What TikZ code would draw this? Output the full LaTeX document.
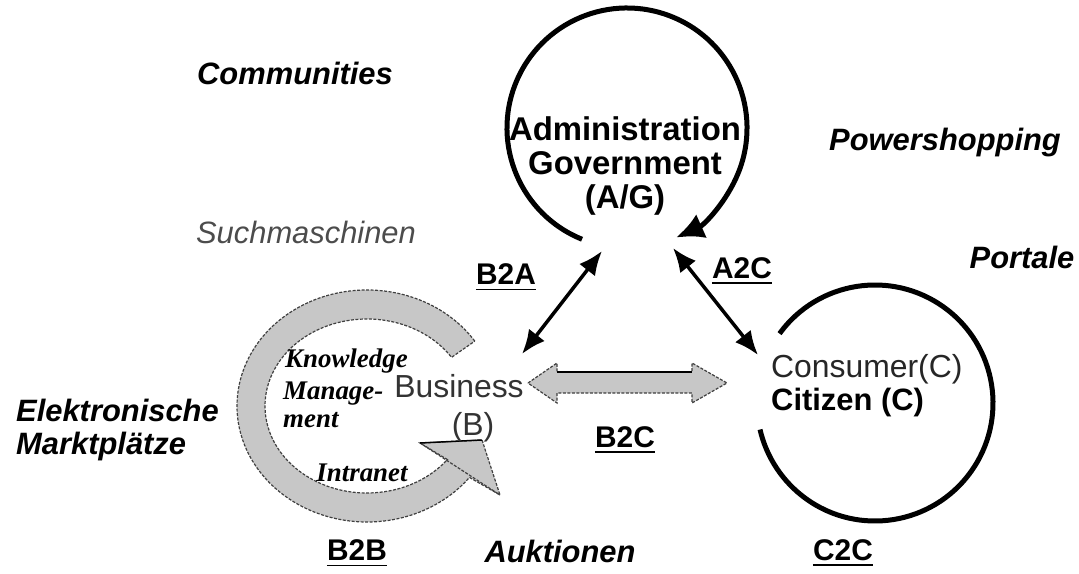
\documentclass[tikz,border=0pt]{standalone}
\usepackage{fontspec}
\setmainfont{Liberation Sans}
\newfontfamily\timesf{Liberation Serif}
\usetikzlibrary{arrows.meta,calc}
\begin{document}
\begin{tikzpicture}[x=1bp,y=-1bp,
  lbl/.style={font=\fontsize{31}{34}\selectfont\bfseries\itshape, inner sep=0},
  code/.style={font=\fontsize{30}{34}\selectfont\bfseries, inner sep=0},
  plain/.style={font=\fontsize{32}{34}\selectfont, inner sep=0, text=black!80},
  blackarc/.style={line width=5bp},
  dbl/.style={line width=3.5bp, {Latex[length=24bp,width=20bp]}-{Latex[length=24bp,width=20bp]}},
  greyshape/.style={fill=black!22, draw=black!75, line width=1.2bp, dash pattern=on 3bp off 1.5bp},
  kmtext/.style={font=\timesf\fontsize{27}{28}\selectfont\bfseries\itshape, inner sep=0, anchor=west},
  uline/.style={line width=1.6bp}
]
\useasboundingbox (0,0) rectangle (1079,574);

% top circle (Administration / Government)
\coordinate (cA) at (627,128);
\draw[blackarc, -{Latex[length=28bp,width=26bp]}] ($(cA)+(112:120)$) arc[start angle=112, end angle=426, radius=120];

% consumer circle
\coordinate (cC) at (875,403);
\draw[blackarc] ($(cC)+(216:118)$) arc[start angle=216, end angle=527, radius=118];

% grey ring (Business)
\coordinate (cB) at (367,406);
\path[greyshape] ($(cB)+(-34:130 and 116)$) arc[start angle=-34, end angle=-322, x radius=130, y radius=116]
  -- (500,495) -- (482,440) -- (420,443) -- ($(cB)+(38:102 and 87)$)
  arc[start angle=38, end angle=326, x radius=102, y radius=87] -- cycle;
\draw[draw=black!75, line width=1.2bp, dash pattern=on 3bp off 1.5bp] (420,443) -- (500,495);
\draw[line width=1.5bp] (420,443) -- (482,440);

% B2C grey double arrow
\path[greyshape] (528,383) -- (557,363) -- (557,372) -- (692,372) -- (692,363) -- (727,383)
  -- (692,403) -- (692,393) -- (557,393) -- (557,403) -- cycle;
\draw[line width=1.5bp] (557,372) -- (692,372);

% black double arrows
\coordinate (ba1) at (522,354); \coordinate (ba2) at (602,251);
\draw[dbl] (ba1) -- (ba2);
\coordinate (ac1) at (673,248); \coordinate (ac2) at (758,355);
\draw[dbl] (ac1) -- (ac2);

% texts in circles
\node[font=\fontsize{33}{34}\selectfont\bfseries, align=center, inner sep=0] (admin) at (625,166)
  {Administration\\Government\\(A/G)};
\node[plain] (bus) at (459,386) {Business};
\node[plain] (busb) at (473,427) {(B)};
\node[plain, anchor=west, text=black!85] (cons) at (771,369) {Consumer(C)};
\node[code, font=\fontsize{31}{34}\selectfont\bfseries, anchor=west] (citi) at (771,403) {Citizen (C)};

\node[kmtext] (km1) at (285,361) {Knowledge};
\node[kmtext] (km2) at (283,394) {Manage-};
\node[kmtext] (km3) at (283,420) {ment};
\node[kmtext, anchor=center] (intra) at (362,473) {Intranet};

% surrounding labels
\node[lbl] (comm) at (295,73) {Communities};
\node[lbl] (power) at (945,143) {Powershopping};
\node[lbl] (port) at (1022,257) {Portale};
\node[font=\fontsize{31}{34}\selectfont\itshape, inner sep=0, text=black!70] (such) at (306,232) {Suchmaschinen};
\node[lbl, align=left, anchor=west] (markt) at (16,430) {Elektronische\\Marktpl\"atze};
\node[lbl] (auk) at (560,551) {Auktionen};

% relation labels
\node[code] (b2a) at (506,274) {B2A};
\node[code] (a2c) at (742,268) {A2C};
\node[code] (b2c) at (625,437) {B2C};
\node[code] (b2b) at (357,550) {B2B};
\node[code] (c2c) at (843,550) {C2C};
\foreach \n in {b2a,a2c,b2c,b2b,c2c}{
  \draw[uline] ([yshift=-5bp]\n.base west) -- ([yshift=-5bp]\n.base east);
}
\end{tikzpicture}
\end{document}
